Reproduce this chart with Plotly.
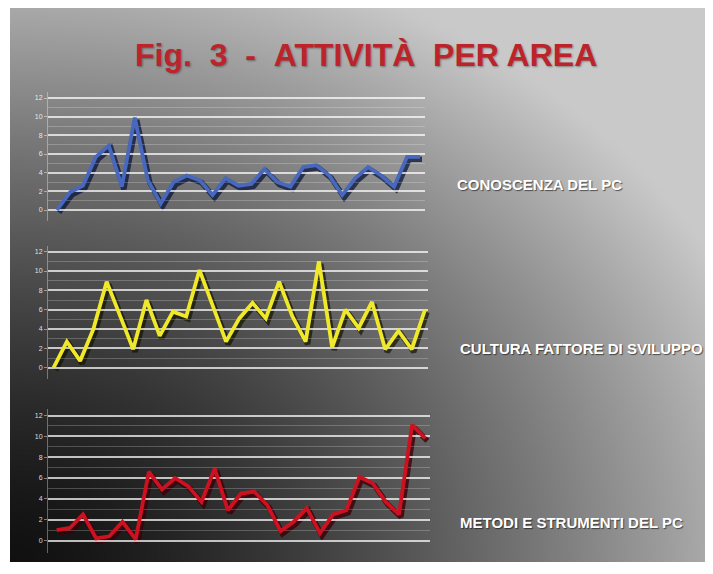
import numpy as np
import plotly.graph_objects as go

W, H = 713, 574

# ---------------- data ----------------
title_text = "Fig.\u00a0\u00a03\u00a0\u00a0-\u00a0\u00a0ATTIVITÀ\u00a0\u00a0PER AREA"
panel_labels = ["CONOSCENZA DEL PC", "CULTURA FATTORE DI SVILUPPO", "METODI E STRUMENTI DEL PC"]
y_ticks = [0, 2, 4, 6, 8, 10, 12]
periods = list(range(1, 30))

conoscenza = [0.0, 1.9, 2.6, 5.7, 6.9, 2.5, 9.9, 3.2, 0.7, 3.0, 3.7, 3.2, 1.6, 3.4, 2.6,
              2.8, 4.4, 3.0, 2.5, 4.6, 4.8, 3.7, 1.6, 3.4, 4.6, 3.7, 2.5, 5.7, 5.7]
cultura = [0.0, 2.7, 0.7, 4.0, 8.9, 5.5, 1.9, 7.0, 3.3, 5.8, 5.3, 10.1, 6.3, 2.7, 5.1,
           6.7, 5.1, 8.9, 5.3, 2.7, 11.0, 2.1, 6.0, 4.1, 6.8, 1.9, 3.8, 1.9, 6.0]
metodi = [1.0, 1.2, 2.5, 0.2, 0.4, 1.8, 0.1, 6.6, 4.9, 6.0, 5.2, 3.7, 6.9, 2.9, 4.5,
          4.7, 3.4, 0.9, 1.8, 3.1, 0.7, 2.5, 2.9, 6.1, 5.5, 3.7, 2.5, 11.1, 9.8]
series = [conoscenza, cultura, metodi]

# ---------------- styles / geometry ----------------
main_colors = ["#4868bd", "#f0e82a", "#cc1220"]
shadow_colors = ["rgba(10,20,60,0.75)", "rgba(20,20,0,0.7)", "rgba(60,0,8,0.8)"]
geoms = [
    dict(gx0=48, gx1=425, first=57, last=420, y0=210, y12=98, lab=(455, 184)),
    dict(gx0=48, gx1=428, first=53.6, last=425, y0=367.7, y12=251.7, lab=(458, 348)),
    dict(gx0=48, gx1=430, first=56.7, last=425.3, y0=540.5, y12=415.5, lab=(458, 522)),
]

fig = go.Figure()

# background gradient (style only)
nx, ny = 70, 60
gx = np.linspace(0, 1, nx)
gy = np.linspace(0, 1, ny)
XX, YY = np.meshgrid(gx, gy)
R = np.sqrt(XX ** 2 + YY ** 2)
B = 16 + 185 * np.clip(R / 1.15, 0, 1) ** 1.4
fig.add_trace(go.Heatmap(z=B, x=gx, y=gy, zmin=0, zmax=255, zsmooth="best",
                         colorscale=[[0, "rgb(0,0,0)"], [1, "rgb(255,255,255)"]],
                         showscale=False, hoverinfo="skip", xaxis="x", yaxis="y"))
layout = dict(
    xaxis=dict(domain=[10 / W, 705 / W], range=[0, 1], visible=False, fixedrange=True),
    yaxis=dict(domain=[1 - 562 / H, 1 - 8 / H], range=[0, 1], visible=False, fixedrange=True),
)

yr = [-1.2, 12.6]
for k, g in enumerate(geoms):
    ux = (g["last"] - g["first"]) / 28
    xr = [1 - (g["first"] - g["gx0"]) / ux, 29 + (g["gx1"] - g["last"]) / ux]
    uy = (g["y0"] - g["y12"]) / 12
    bot = g["y0"] - yr[0] * uy
    top = g["y12"] - (yr[1] - 12) * uy
    sid = k + 2
    mid = k + 5
    dx, dy = 2.0, 2.5
    layout[f"xaxis{sid}"] = dict(domain=[(g["gx0"] + dx) / W, (g["gx1"] + dx) / W], range=xr,
                                 visible=False, anchor=f"y{sid}")
    layout[f"yaxis{sid}"] = dict(domain=[1 - (bot + dy) / H, 1 - (top + dy) / H], range=yr,
                                 visible=False, anchor=f"x{sid}")
    fig.add_trace(go.Scatter(x=periods, y=series[k], mode="lines",
                             line=dict(color=shadow_colors[k], width=5.5),
                             xaxis=f"x{sid}", yaxis=f"y{sid}", hoverinfo="skip"))
    layout[f"xaxis{mid}"] = dict(domain=[g["gx0"] / W, g["gx1"] / W], range=xr,
                                 visible=False, anchor=f"y{mid}")
    layout[f"yaxis{mid}"] = dict(
        domain=[1 - bot / H, 1 - top / H], range=yr, anchor=f"x{mid}",
        tickmode="array", tickvals=y_ticks, ticktext=[str(v) for v in y_ticks],
        showgrid=True, gridcolor="rgba(255,255,255,0.72)", gridwidth=1.6,
        zeroline=False, showline=True, linecolor="rgba(255,255,255,0.35)", linewidth=1,
        ticks="outside", ticklen=3, tickcolor="rgba(255,255,255,0.45)",
        tickfont=dict(family="Liberation Sans", size=7, color="rgba(255,255,255,0.85)"),
        minor=dict(tickmode="array", tickvals=[1, 3, 5, 7, 9, 11], showgrid=True,
                   gridcolor="rgba(255,255,255,0.22)", gridwidth=1, ticks=""),
    )
    fig.add_trace(go.Scatter(x=periods, y=series[k], mode="lines",
                             line=dict(color=main_colors[k], width=3.8),
                             xaxis=f"x{mid}", yaxis=f"y{mid}", name=panel_labels[k]))

annotations = [dict(
    text=title_text, xref="paper", yref="paper", x=366 / W, y=1 - 55 / H,
    xanchor="center", yanchor="middle", showarrow=False,
    font=dict(family="Liberation Sans", size=32, color="#bc232b", weight="bold",
              shadow="1px 1px 2px rgba(0,0,0,0.35)"))]
for k, g in enumerate(geoms):
    annotations.append(dict(
        text=panel_labels[k], xref="paper", yref="paper",
        x=g["lab"][0] / W, y=1 - g["lab"][1] / H, xanchor="left", yanchor="middle",
        showarrow=False,
        font=dict(family="Liberation Sans", size=15, color="#ffffff", weight="bold",
                  shadow="1px 1px 1px rgba(0,0,0,0.55)")))

fig.update_layout(
    width=W, height=H, margin=dict(l=0, r=0, t=0, b=0),
    paper_bgcolor="#ffffff", plot_bgcolor="rgba(0,0,0,0)",
    showlegend=False, annotations=annotations, **layout)

fig.write_html("out.html", include_plotlyjs=True, config={"displayModeBar": False})
